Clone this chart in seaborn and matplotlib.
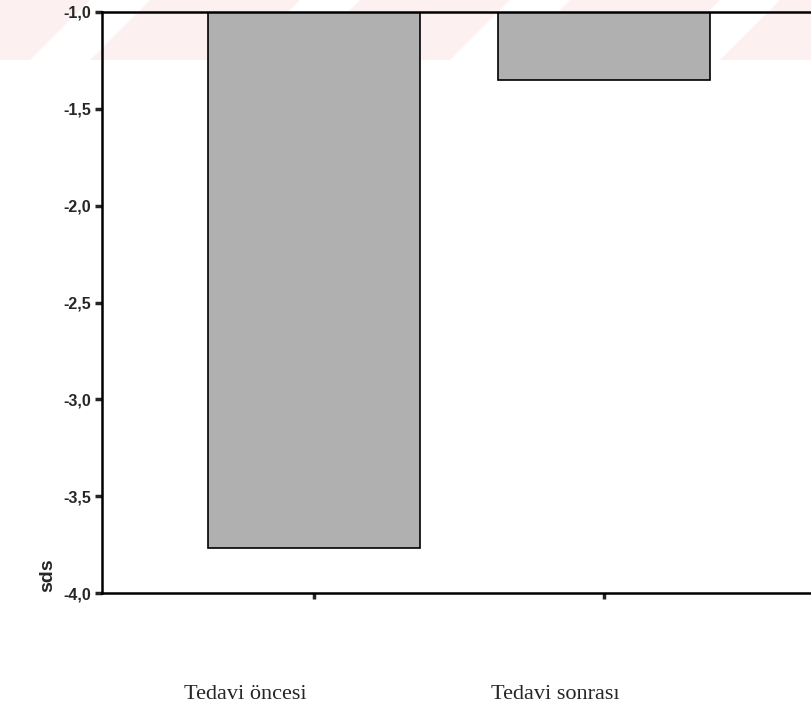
import seaborn as sns
import pandas as pd
import matplotlib
matplotlib.use("Agg")
from matplotlib import pyplot as plt
from matplotlib.transforms import ScaledTranslation
from matplotlib.patches import Polygon

# data
groups = ["Tedavi öncesi", "Tedavi sonrası"]
sds_values = [-3.77, -1.35]
y_ticks = [-4.0, -3.5, -3.0, -2.5, -2.0, -1.5, -1.0]
y_tick_labels = ["-4,0", "-3,5", "-3,0", "-2,5", "-2,0", "-1,5", "-1,0"]

df = pd.DataFrame({"grup": groups, "sds": sds_values})

sns.set_style("white")
plt.rcParams["font.family"] = ["Liberation Sans", "DejaVu Sans"]

fig = plt.figure(figsize=(8.12, 7.2), dpi=100)

# faint pink watermark stripes behind the chart
for x0 in [-60, 150, 360, 570, 780]:
    fig.patches.append(Polygon([[x0 / 812, 1.0], [(x0 + 150) / 812, 1.0],
                                [(x0 + 90) / 812, 660 / 720], [(x0 - 60) / 812, 660 / 720]],
                               closed=True, transform=fig.transFigure,
                               facecolor="#fdf0f0", edgecolor="none", zorder=-5))

ax = fig.add_axes([102 / 812, 1 - 593 / 720, 1 - 102 / 812, (593 - 12) / 720])
ax.patch.set_alpha(0)
ax.set_zorder(2)

sns.barplot(data=df, x="grup", y="sds", color="#b0b0b0", saturation=1,
            width=0.73, edgecolor="black", linewidth=1.2, ax=ax)

ax.set_ylim(-4.0, -1.0)
ax.set_xlim(-0.731, 1.717)
ax.set_yticks(y_ticks)
ax.set_yticklabels(y_tick_labels, fontsize=11.5, fontweight="bold")

for side in ["left", "top", "bottom"]:
    ax.spines[side].set_visible(True)
    ax.spines[side].set_color("black")
    ax.spines[side].set_linewidth(1.8)
ax.spines["right"].set_visible(False)

ax.tick_params(axis="y", direction="out", length=5, width=2.5, pad=3, left=True)
ax.tick_params(axis="x", direction="out", length=4, width=2.5, pad=62, bottom=True)

ax.set_xticks([0, 1])
ax.set_xticklabels(groups, fontsize=16, family=["Liberation Serif", "DejaVu Serif"])
for lbl, dx in zip(ax.get_xticklabels(), [-0.69, -0.49]):
    lbl.set_transform(lbl.get_transform() + ScaledTranslation(dx, 0, fig.dpi_scale_trans))

ax.set_xlabel("")
ax.set_ylabel("sds", fontsize=14, fontweight="bold")
ax.yaxis.set_label_coords(-0.065, 0.03)

fig.savefig("out.png", dpi=100)
